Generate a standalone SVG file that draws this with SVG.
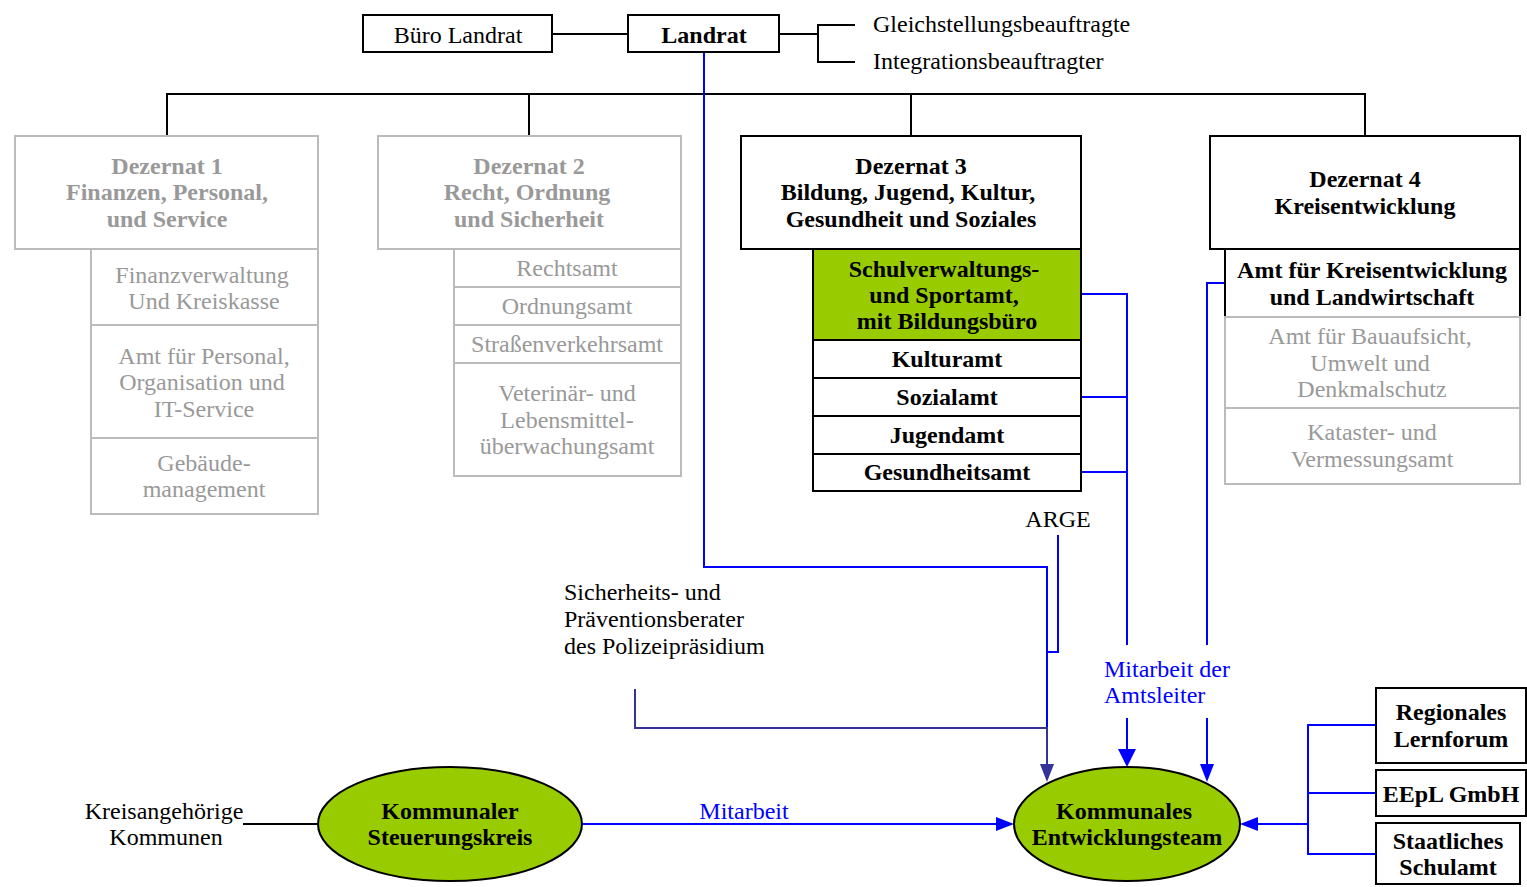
<svg xmlns="http://www.w3.org/2000/svg" width="1527" height="887" viewBox="0 0 1527 887">
<style>
text{font-family:"Liberation Serif","Times New Roman",serif;font-size:24px;text-anchor:middle;fill:#000}
.b{font-weight:bold}
.g{fill:#999}
.bl{fill:#0000ff}
.l{text-anchor:start}
.box{fill:#fff;stroke:#000;stroke-width:2}
.gbox{fill:#fff;stroke:#bbb;stroke-width:2}
.blk{fill:none;stroke:#000;stroke-width:2}
.blu{fill:none;stroke:#0000ff;stroke-width:2}
.dbl{fill:none;stroke:#333399;stroke-width:2}
.ell{fill:#99cc00;stroke:#000;stroke-width:2}
</style>
<g id="connectors">
<path class="blk" d="M552,34 H628 M779,34 H818 M855,25 H818 V62 H855"/>
<path class="blk" d="M167,136 V94 H1365 V136 M529,94 V136 M911,94 V136"/>
<path class="blk" d="M243,824 H318"/>
<path class="blu" d="M704,52 V567 H1047 V728"/>
<path class="blu" d="M1058,535 V652 H1047"/>
<path class="dbl" d="M635,689 V728 H1047 V766"/>
<path d="M1040,764 L1047,782 L1054,764 z" fill="#333399"/>
<path class="blu" d="M1081,294 H1127 V645 M1081,397 H1127 M1081,472 H1127"/>
<path class="blu" d="M1225,283 H1207 V645"/>
<path class="blu" d="M1127,718 V752"/>
<path d="M1118,749 L1127,767 L1136,749 z" fill="#0000ff"/>
<path class="blu" d="M1207,718 V766"/>
<path d="M1200,764 L1207,782 L1214,764 z" fill="#0000ff"/>
<path class="blu" d="M582,824 H1000"/>
<path d="M996,817 L1014,824 L996,831 z" fill="#0000ff"/>
<path class="blu" d="M1376,725 H1308 V854 H1376 M1308,793 H1376 M1308,824 H1256"/>
<path d="M1258,817 L1240,824 L1258,831 z" fill="#0000ff"/>
<text class="bl" x="744" y="819">Mitarbeit</text>
<text class="bl l" x="1104" y="677">Mitarbeit der</text>
<text class="bl l" x="1104" y="703">Amtsleiter</text>
<text x="1058" y="527">ARGE</text>
</g>
<g id="buero"><rect class="box" x="363" y="15" width="189" height="37"/><text x="458" y="43">Büro Landrat</text></g>
<g id="landrat"><rect class="box" x="628" y="15" width="151" height="37"/><text class="b" x="704" y="43">Landrat</text></g>
<g id="beauftragte"><text class="l" x="873" y="32">Gleichstellungsbeauftragte</text><text class="l" x="873" y="69">Integrationsbeauftragter</text></g>
<g id="dez1">
<rect class="gbox" x="15" y="136" width="303" height="113"/>
<text class="b g" x="167" y="174">Dezernat 1</text><text class="b g" x="167" y="200">Finanzen, Personal,</text><text class="b g" x="167" y="227">und Service</text>
<rect class="gbox" x="91" y="249" width="227" height="76"/><text class="g" x="202" y="283">Finanzverwaltung</text><text class="g" x="204" y="309">Und Kreiskasse</text>
<rect class="gbox" x="91" y="325" width="227" height="113"/><text class="g" x="204" y="364">Amt für Personal,</text><text class="g" x="202" y="390">Organisation und</text><text class="g" x="204" y="417">IT-Service</text>
<rect class="gbox" x="91" y="438" width="227" height="76"/><text class="g" x="204" y="471">Gebäude-</text><text class="g" x="204" y="497">management</text>
</g>
<g id="dez2">
<rect class="gbox" x="378" y="136" width="303" height="113"/>
<text class="b g" x="529" y="174">Dezernat 2</text><text class="b g" x="527" y="200">Recht, Ordnung</text><text class="b g" x="529" y="227">und Sicherheit</text>
<rect class="gbox" x="454" y="249" width="227" height="38"/><text class="g" x="567" y="276">Rechtsamt</text>
<rect class="gbox" x="454" y="287" width="227" height="38"/><text class="g" x="567" y="314">Ordnungsamt</text>
<rect class="gbox" x="454" y="325" width="227" height="38"/><text class="g" x="567" y="352">Straßenverkehrsamt</text>
<rect class="gbox" x="454" y="363" width="227" height="113"/><text class="g" x="567" y="401">Veterinär- und</text><text class="g" x="567" y="428">Lebensmittel-</text><text class="g" x="567" y="454">überwachungsamt</text>
</g>
<g id="dez3">
<rect class="box" x="741" y="136" width="340" height="113"/>
<text class="b" x="911" y="174">Dezernat 3</text><text class="b" x="908" y="200">Bildung, Jugend, Kultur,</text><text class="b" x="911" y="227">Gesundheit und Soziales</text>
<rect class="box" x="813" y="249" width="268" height="91" style="fill:#99cc00"/><text class="b" x="944" y="277">Schulverwaltungs-</text><text class="b" x="944" y="303">und Sportamt,</text><text class="b" x="947" y="329">mit Bildungsbüro</text>
<rect class="box" x="813" y="340" width="268" height="38"/><text class="b" x="947" y="367">Kulturamt</text>
<rect class="box" x="813" y="378" width="268" height="38"/><text class="b" x="947" y="405">Sozialamt</text>
<rect class="box" x="813" y="416" width="268" height="38"/><text class="b" x="947" y="443">Jugendamt</text>
<rect class="box" x="813" y="454" width="268" height="37"/><text class="b" x="947" y="480">Gesundheitsamt</text>
</g>
<g id="dez4">
<rect class="box" x="1210" y="136" width="310" height="113"/>
<text class="b" x="1365" y="187">Dezernat 4</text><text class="b" x="1365" y="214">Kreisentwicklung</text>
<rect class="box" x="1225" y="249" width="295" height="68"/><text class="b" x="1372" y="278">Amt für Kreisentwicklung</text><text class="b" x="1372" y="305">und Landwirtschaft</text>
<rect class="gbox" x="1225" y="317" width="295" height="91"/><text class="g" x="1370" y="344">Amt für Bauaufsicht,</text><text class="g" x="1370" y="371">Umwelt und</text><text class="g" x="1372" y="397">Denkmalschutz</text>
<rect class="gbox" x="1225" y="408" width="295" height="76"/><text class="g" x="1372" y="440">Kataster- und</text><text class="g" x="1372" y="467">Vermessungsamt</text>
</g>
<g id="sicherheit"><text class="l" x="564" y="600">Sicherheits- und</text><text class="l" x="564" y="627">Präventionsberater</text><text class="l" x="564" y="654">des Polizeipräsidium</text></g>
<g id="kommunen"><text x="164" y="819">Kreisangehörige</text><text x="166" y="845">Kommunen</text></g>
<g id="steuerungskreis"><ellipse class="ell" cx="450" cy="824" rx="132" ry="57"/><text class="b" x="450" y="819">Kommunaler</text><text class="b" x="450" y="845">Steuerungskreis</text></g>
<g id="entwicklungsteam"><ellipse class="ell" cx="1127" cy="824" rx="113" ry="57"/><text class="b" x="1124" y="819">Kommunales</text><text class="b" x="1127" y="845">Entwicklungsteam</text></g>
<g id="lernforum"><rect class="box" x="1376" y="688" width="150" height="75"/><text class="b" x="1451" y="720">Regionales</text><text class="b" x="1451" y="747">Lernforum</text></g>
<g id="eepl"><rect class="box" x="1376" y="770" width="150" height="46"/><text class="b" x="1451" y="802">EEpL GmbH</text></g>
<g id="schulamt"><rect class="box" x="1376" y="823" width="144" height="61"/><text class="b" x="1448" y="849">Staatliches</text><text class="b" x="1448" y="875">Schulamt</text></g>
</svg>
